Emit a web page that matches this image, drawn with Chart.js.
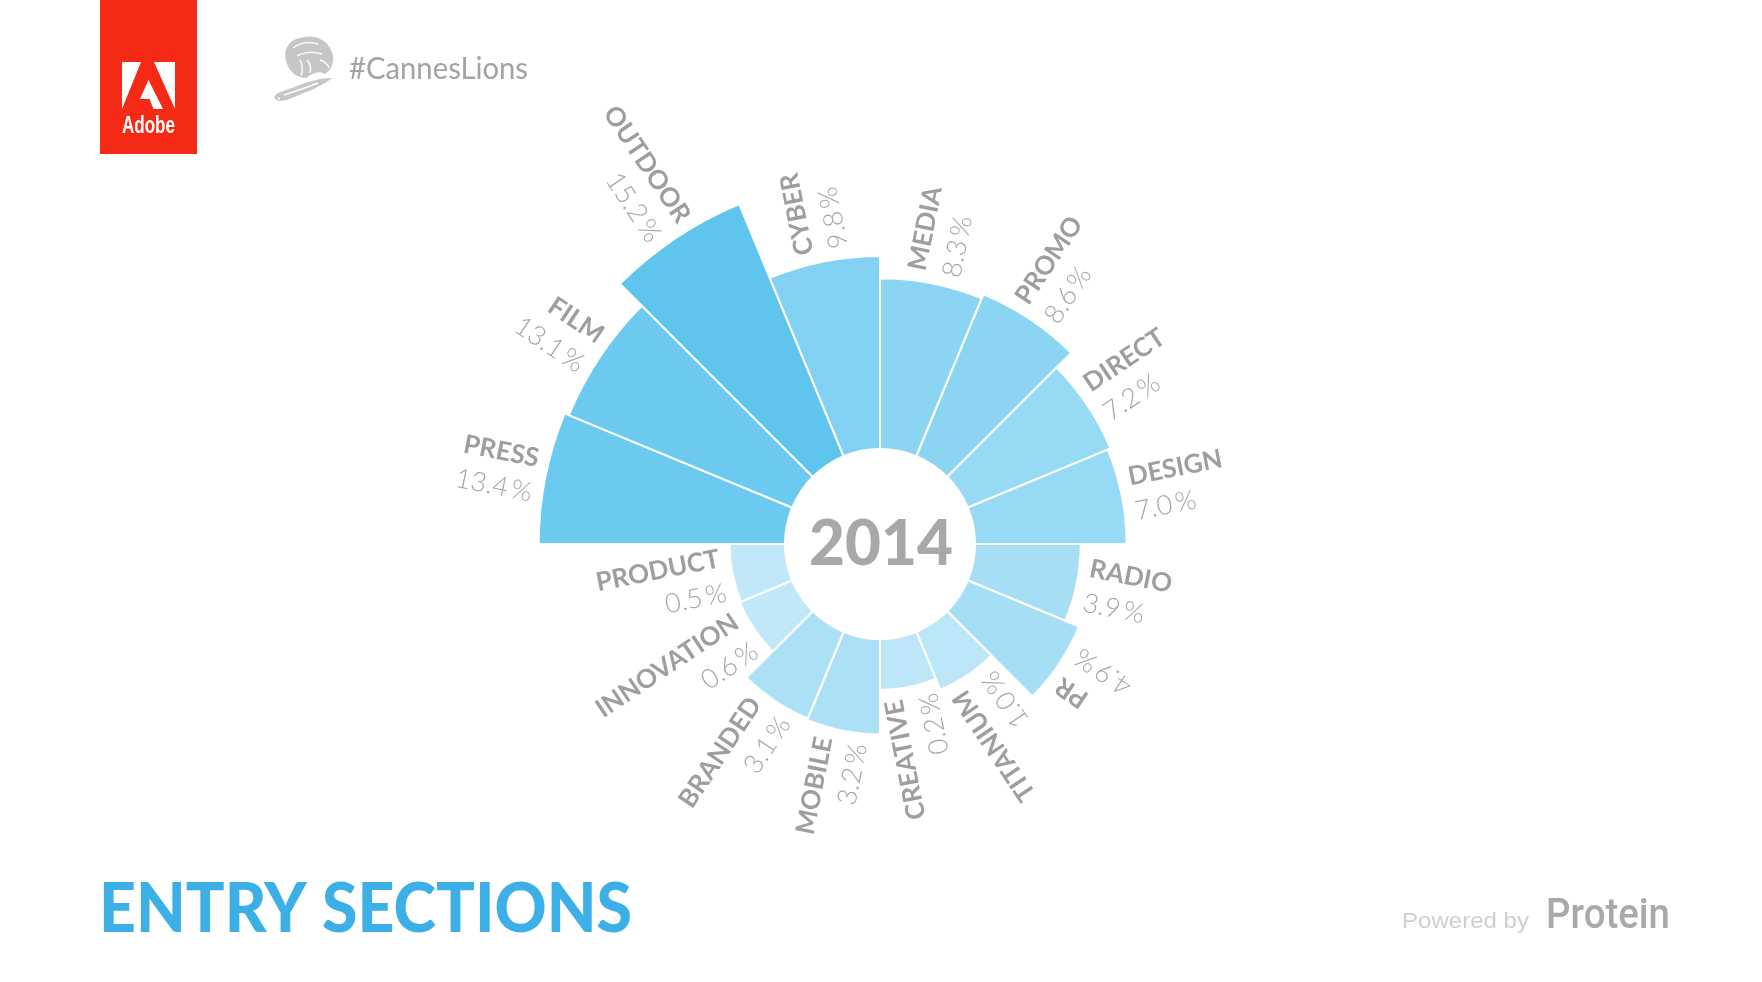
<!DOCTYPE html>
<html>
<head>
<meta charset="utf-8">
<title>Entry sections 2014</title>
<script src="https://cdn.jsdelivr.net/npm/chart.js"></script>
<style>
  html, body { margin: 0; padding: 0; background: #fff; overflow: hidden; }
  canvas { display: block; }
</style>
</head>
<body>
<canvas id="chart" width="1762" height="982"></canvas>
<script>
// sections, clockwise from 9 o'clock
const categories = ["PRESS", "FILM", "OUTDOOR", "CYBER", "MEDIA", "PROMO", "DIRECT", "DESIGN",
  "RADIO", "PR", "TITANIUM", "CREATIVE", "MOBILE", "BRANDED", "INNOVATION", "PRODUCT"];
const shares = [13.4, 13.1, 15.2, 9.8, 8.3, 8.6, 7.2, 7.0, 3.9, 4.9, 1.0, 0.2, 3.2, 3.1, 0.6, 0.5];
const yearLabel = "2014";

const palette = ["#6ccaf0", "#6ccaf0", "#5fc5ee", "#82d0f2", "#8bd5f3", "#8bd5f3", "#97daf3", "#97daf3",
  "#a6def5", "#a6def5", "#bbe6f7", "#bde7f8", "#ace0f6", "#ace0f6", "#c0e8f8", "#c0e8f8"];

// radial scale: value 0 sits at 143px, 14.8px per percent, drawing area 400px
const ZERO_PX = 143;
const PX_PER_PCT = 14.8;
const AREA = 400;
const rMin = -ZERO_PX / PX_PER_PCT;
const rMax = rMin + AREA / PX_PER_PCT;
const HOLE = 96;

function fitText(ctx, text, x, y, width) {
  const w = ctx.measureText(text).width;
  ctx.save();
  ctx.translate(x, y);
  ctx.scale(width / w, 1);
  ctx.fillText(text, 0, 0);
  ctx.restore();
}

function drawAdobe(ctx) {
  ctx.save();
  ctx.fillStyle = "#f42a17";
  ctx.fillRect(100, 0, 97, 154);
  ctx.fillStyle = "#fff";
  ctx.beginPath();
  ctx.moveTo(122, 62); ctx.lineTo(141, 62); ctx.lineTo(122, 109); ctx.closePath();
  ctx.moveTo(154, 62); ctx.lineTo(175, 62); ctx.lineTo(175, 109); ctx.closePath();
  ctx.moveTo(148.5, 80); ctx.lineTo(163, 109); ctx.lineTo(153.5, 109);
  ctx.lineTo(149.5, 99); ctx.lineTo(140, 99); ctx.closePath();
  ctx.fill();
  ctx.font = "bold 24px 'Liberation Sans Narrow', 'Liberation Sans', sans-serif";
  ctx.textBaseline = "alphabetic";
  fitText(ctx, "Adobe", 122, 133, 53);
  ctx.restore();
}

// rough sketch of the Cannes Lions lion
function drawLion(ctx) {
  ctx.save();
  ctx.fillStyle = "#c6c6c6";
  // mane
  ctx.beginPath();
  ctx.moveTo(288, 66);
  ctx.bezierCurveTo(281, 52, 288, 40, 300, 38);
  ctx.bezierCurveTo(312, 34, 326, 38, 331, 50);
  ctx.bezierCurveTo(336, 60, 332, 70, 325, 74);
  ctx.bezierCurveTo(318, 70, 312, 74, 306, 78);
  ctx.bezierCurveTo(298, 78, 291, 73, 288, 66);
  ctx.fill();
  // body with front leg
  ctx.beginPath();
  ctx.moveTo(274, 98);
  ctx.bezierCurveTo(276, 92, 284, 91, 292, 88);
  ctx.bezierCurveTo(304, 83, 318, 78, 333, 78);
  ctx.bezierCurveTo(326, 82, 318, 88, 306, 92);
  ctx.bezierCurveTo(296, 96, 288, 101, 278, 101);
  ctx.closePath();
  ctx.fill();
  // white detail lines
  ctx.strokeStyle = "#fff";
  ctx.lineWidth = 1.4;
  ctx.beginPath();
  ctx.moveTo(293, 48); ctx.quadraticCurveTo(304, 40, 318, 44);
  ctx.moveTo(297, 56); ctx.quadraticCurveTo(308, 50, 322, 54);
  ctx.moveTo(300, 60); ctx.quadraticCurveTo(304, 68, 301, 76);
  ctx.moveTo(307, 60); ctx.quadraticCurveTo(312, 66, 310, 73);
  ctx.moveTo(320, 60); ctx.quadraticCurveTo(327, 62, 329, 68);
  ctx.moveTo(284, 95); ctx.quadraticCurveTo(300, 90, 318, 83);
  ctx.moveTo(279, 97); ctx.lineTo(279, 100);
  ctx.stroke();
  ctx.restore();
}

const decor = {
  id: "decor",
  afterDatasetsDraw(chart) {
    const ctx = chart.ctx;
    const scale = chart.scales.r;
    const cx = scale.xCenter, cy = scale.yCenter;

    // white hole with the year
    ctx.save();
    ctx.fillStyle = "#fff";
    ctx.beginPath();
    ctx.arc(cx, cy, HOLE, 0, Math.PI * 2);
    ctx.fill();
    ctx.fillStyle = "#a8a8a8";
    ctx.font = "900 62px Lato, sans-serif";
    ctx.textAlign = "center";
    ctx.textBaseline = "alphabetic";
    ctx.fillText(yearLabel, cx + 1, cy + 21);
    ctx.restore();

    // section labels, rotated along each slice
    const meta = chart.getDatasetMeta(0);
    meta.data.forEach((arc, i) => {
      const p = arc.getProps(["x", "y", "startAngle", "endAngle", "outerRadius"], true);
      const mid = (p.startAngle + p.endAngle) / 2;
      let deg = (mid * 180 / Math.PI) % 360;
      if (deg < 0) deg += 360;
      const flip = deg > 22.5 && deg < 247.5;
      const r0 = p.outerRadius + 10;
      ctx.save();
      ctx.translate(p.x + Math.cos(mid) * r0, p.y + Math.sin(mid) * r0);
      ctx.rotate(flip ? mid + Math.PI : mid);
      ctx.textAlign = flip ? "right" : "left";
      ctx.textBaseline = "middle";
      ctx.font = "bold 26px Lato, sans-serif";
      ctx.fillStyle = "#9e9e9e";
      ctx.fillText(categories[i], 0, -17);
      ctx.font = "300 27px Lato, sans-serif";
      ctx.fillStyle = "#a6a6a6";
      ctx.fillText(shares[i].toFixed(1) + "\u2009%", 0, 18);
      ctx.restore();
    });
  },
  afterDraw(chart) {
    const ctx = chart.ctx;
    drawAdobe(ctx);
    drawLion(ctx);

    ctx.save();
    ctx.textBaseline = "alphabetic";
    ctx.fillStyle = "#a3a3a3";
    ctx.font = "31px Lato, sans-serif";
    fitText(ctx, "#CannesLions", 349, 79, 179);

    ctx.fillStyle = "#3cb0e6";
    ctx.font = "900 68px Lato, sans-serif";
    fitText(ctx, "ENTRY SECTIONS", 99, 932, 533);

    ctx.fillStyle = "#cfcfcf";
    ctx.font = "22px 'Liberation Sans', Arial, sans-serif";
    fitText(ctx, "Powered by", 1402, 928, 127);
    ctx.fillStyle = "#a9a9a9";
    ctx.font = "500 43px Roboto, 'Liberation Sans', sans-serif";
    fitText(ctx, "Protein", 1546, 928, 124);
    ctx.restore();
  }
};

new Chart(document.getElementById("chart"), {
  type: "polarArea",
  data: {
    labels: categories,
    datasets: [{
      data: shares,
      backgroundColor: palette,
      borderColor: "#ffffff",
      borderWidth: 2
    }]
  },
  options: {
    responsive: false,
    animation: false,
    layout: { padding: { left: 480, right: 482, top: 144, bottom: 38 } },
    plugins: {
      legend: { display: false },
      tooltip: { enabled: false }
    },
    scales: {
      r: {
        min: rMin,
        max: rMax,
        startAngle: 270,
        ticks: { display: false },
        grid: { display: false },
        angleLines: { display: false },
        pointLabels: { display: false }
      }
    }
  },
  plugins: [decor]
});
</script>
</body>
</html>
